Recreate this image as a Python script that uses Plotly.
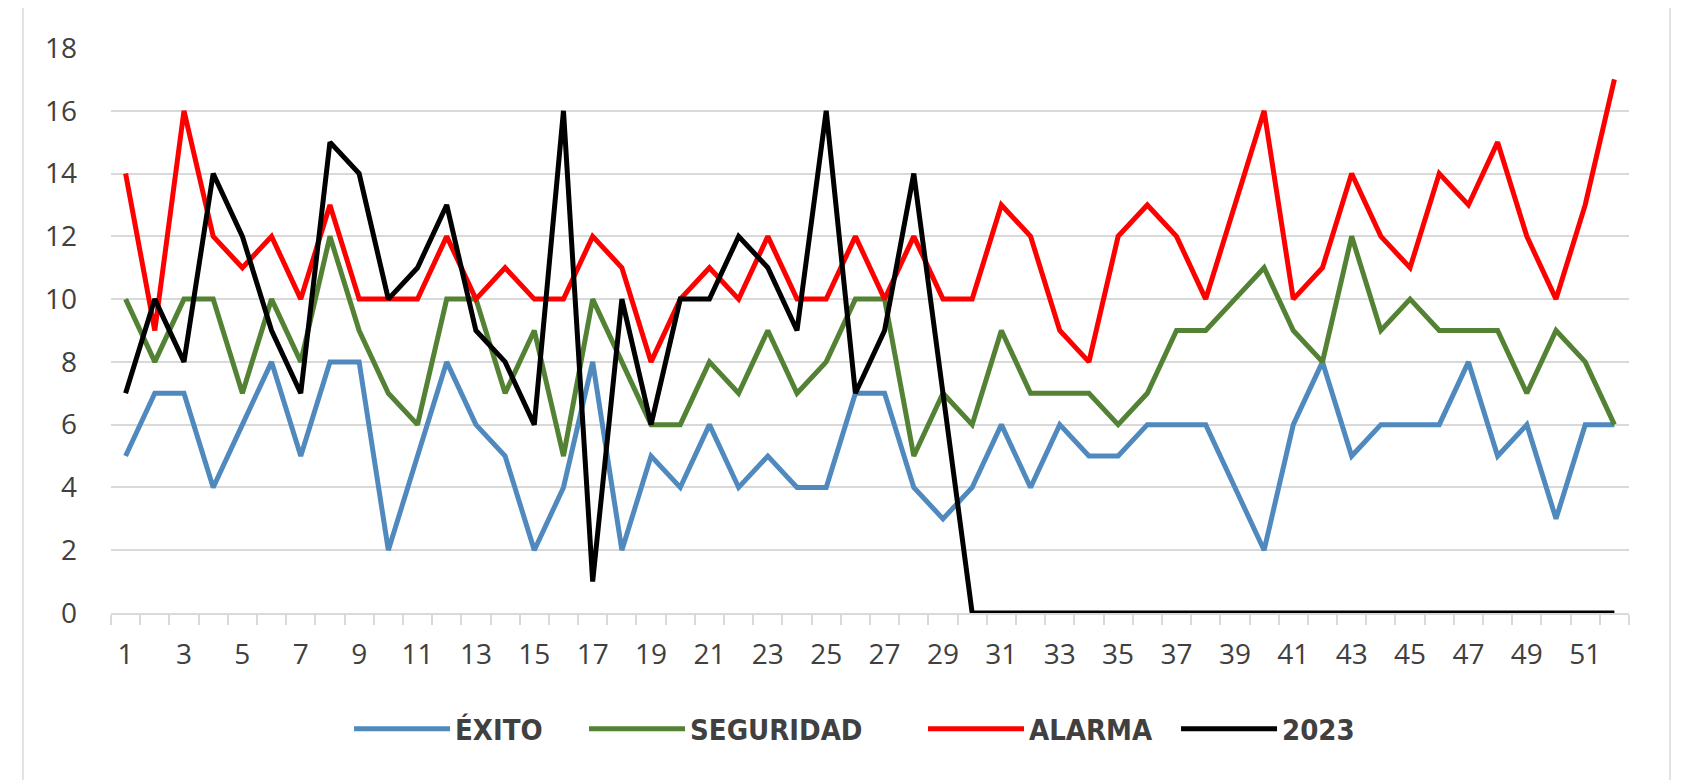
import plotly.graph_objects as go

weeks = list(range(1, 53))
exito = [5, 7, 7, 4, 6, 8, 5, 8, 8, 2, 5, 8, 6, 5, 2, 4, 8, 2, 5, 4, 6, 4, 5, 4, 4, 7,
         7, 4, 3, 4, 6, 4, 6, 5, 5, 6, 6, 6, 4, 2, 6, 8, 5, 6, 6, 6, 8, 5, 6, 3, 6, 6]
seguridad = [10, 8, 10, 10, 7, 10, 8, 12, 9, 7, 6, 10, 10, 7, 9, 5, 10, 8, 6, 6, 8, 7, 9, 7, 8, 10,
             10, 5, 7, 6, 9, 7, 7, 7, 6, 7, 9, 9, 10, 11, 9, 8, 12, 9, 10, 9, 9, 9, 7, 9, 8, 6]
alarma = [14, 9, 16, 12, 11, 12, 10, 13, 10, 10, 10, 12, 10, 11, 10, 10, 12, 11, 8, 10, 11, 10, 12, 10, 10, 12,
          10, 12, 10, 10, 13, 12, 9, 8, 12, 13, 12, 10, 13, 16, 10, 11, 14, 12, 11, 14, 13, 15, 12, 10, 13, 17]
y2023 = [7, 10, 8, 14, 12, 9, 7, 15, 14, 10, 11, 13, 9, 8, 6, 16, 1, 10, 6, 10, 10, 12, 11, 9, 16, 7,
         9, 14, 7, 0, 0, 0, 0, 0, 0, 0, 0, 0, 0, 0, 0, 0, 0, 0, 0, 0, 0, 0, 0, 0, 0, 0]

x_tick_vals = list(range(1, 53, 2))
x_tick_text = [str(v) for v in x_tick_vals]
x_boundaries = [w - 0.5 for w in weeks] + [52.5]
y_tick_vals = list(range(0, 19, 2))

series = [
    ("ÉXITO", exito, "#4F89BE", "legend", 0.1568),
    ("SEGURIDAD", seguridad, "#548235", "legend2", 0.3116),
    ("ALARMA", alarma, "#FF0000", "legend3", 0.5349),
    ("2023", y2023, "#000000", "legend4", 0.7016),
]

grid = "#D9D9D9"
legend_font = dict(family="Liberation Sans Narrow, DejaVu Sans Condensed, sans-serif",
                   size=29, color="#404040", weight="bold")

fig = go.Figure()
legends = {}
for name, vals, color, leg, lx in series:
    fig.add_trace(go.Scatter(
        x=weeks, y=vals, name=name, mode="lines", legend=leg,
        line=dict(color=color, width=5, shape="linear"),
        hoverinfo="x+y+name",
    ))
    legends[leg] = dict(orientation="h", x=lx, xanchor="left", y=-0.205, yanchor="middle",
                        font=legend_font, itemwidth=96, bgcolor="rgba(0,0,0,0)")

fig.update_layout(
    width=1680, height=772,
    margin=dict(l=103, r=59, t=40, b=167),
    paper_bgcolor="white", plot_bgcolor="white",
    font=dict(family="Open Sans, Liberation Sans, sans-serif", color="#404040"),
    xaxis=dict(
        range=[0.5, 52.5], tickmode="array", tickvals=x_tick_vals, ticktext=x_tick_text,
        ticks="", showgrid=False, zeroline=False,
        showline=True, linecolor=grid, linewidth=1.5,
        tickfont=dict(size=28, color="#404040"),
        ticklabelstandoff=16,
        minor=dict(tickmode="array", tickvals=x_boundaries, ticks="outside",
                   ticklen=10, tickcolor=grid, tickwidth=1.5, showgrid=False),
        fixedrange=True,
    ),
    yaxis=dict(
        range=[0, 18], tickmode="array", tickvals=y_tick_vals,
        showgrid=True, gridcolor=grid, gridwidth=1.5, zeroline=False,
        showline=False, ticks="",
        tickfont=dict(size=28, color="#404040"),
        ticklabelstandoff=33,
        fixedrange=True,
    ),
    shapes=[dict(type="rect", xref="paper", yref="paper",
                 x0=-0.058, x1=1.027, y0=-0.34, y1=1.0726,
                 line=dict(color=grid, width=1.5), layer="below")],
    showlegend=True,
    **legends,
)

fig.write_html("out.html")
